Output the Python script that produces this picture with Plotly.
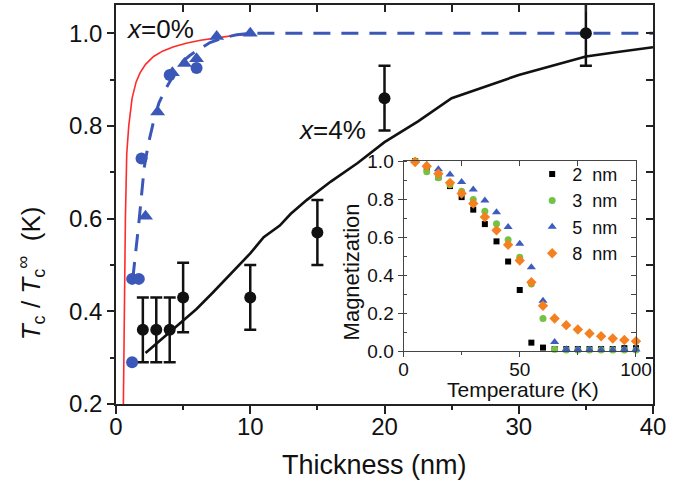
import plotly.graph_objects as go

FONT = "Liberation Sans, Arial, sans-serif"

# ---------------- main panel data ----------------
# x = 0% : measured points (blue)
x0_circ_thick = [1.2, 1.2, 1.7, 1.9, 4.0, 6.0]
x0_circ_tc = [0.29, 0.47, 0.47, 0.73, 0.91, 0.925]
x0_tri_thick = [2.2, 3.1, 4.2, 5.1, 6.0, 7.5, 10.0]
x0_tri_tc = [0.605, 0.83, 0.915, 0.935, 0.945, 0.993, 1.0]

# x = 0% : dashed guide curve (blue)
x0_dash_thick = [1.25, 1.5, 1.7, 1.9, 2.1, 2.4, 2.8, 3.2, 3.7, 4.2, 5.0, 5.5, 6.0, 7.0, 8.0, 9.0, 10.0, 40.0]
x0_dash_tc = [0.47, 0.53, 0.59, 0.65, 0.71, 0.76, 0.81, 0.85, 0.88, 0.905, 0.94, 0.952, 0.962, 0.98, 0.99, 0.997, 1.0, 1.0]

# red model curve
red_thick = [0.55, 0.6, 0.7, 0.8, 0.95, 1.2, 1.5, 1.8, 2.2, 2.8, 3.5, 4.3, 5.3, 6.3, 7.5, 8.7, 10.0]
red_tc = [0.2, 0.4, 0.6, 0.74, 0.8, 0.86, 0.895, 0.915, 0.933, 0.95, 0.962, 0.971, 0.979, 0.985, 0.99, 0.995, 0.998]

# x = 4% : measured points with error bars (black)
x4_thick = [2, 3, 4, 5, 10, 15, 20, 35]
x4_tc = [0.36, 0.36, 0.36, 0.43, 0.43, 0.57, 0.86, 1.0]
x4_err = [0.07, 0.07, 0.07, 0.075, 0.07, 0.07, 0.07, 0.07]

# x = 4% : model curve (black)
x4_fit_thick = [2.2, 3, 4, 5, 6, 7.2, 8.5, 10, 11, 12.2, 13, 14.2, 16, 18, 20, 22.5, 25, 27.5, 30, 32.5, 35, 37.5, 40]
x4_fit_tc = [0.31, 0.33, 0.355, 0.38, 0.405, 0.44, 0.48, 0.525, 0.56, 0.585, 0.61, 0.64, 0.68, 0.72, 0.765, 0.81, 0.86, 0.885, 0.91, 0.93, 0.95, 0.96, 0.97]

# ---------------- inset data ----------------
temperature = [5, 10, 15, 20, 25, 30, 35, 40, 45, 50, 55, 60, 65, 70, 75, 80, 85, 90, 95, 100]
mag_2nm = [1.0, 0.965, 0.915, 0.868, 0.81, 0.744, 0.668, 0.577, 0.471, 0.321, 0.044, 0.018, 0.01, 0.01, 0.01, 0.01, 0.01, 0.01, 0.015, 0.015]
mag_3nm = [1.0, 0.944, 0.912, 0.875, 0.841, 0.797, 0.735, 0.67, 0.586, 0.494, 0.353, 0.171, 0.009, 0.005, 0.005, 0.005, 0.005, 0.005, 0.005, 0.005]
mag_5nm = [1.0, 0.98, 0.956, 0.929, 0.89, 0.85, 0.792, 0.73, 0.653, 0.564, 0.441, 0.265, 0.048, 0.009, 0.008, 0.006, 0.005, 0.005, 0.008, 0.008]
mag_8nm = [0.995, 0.973, 0.933, 0.885, 0.829, 0.776, 0.705, 0.635, 0.559, 0.476, 0.362, 0.238, 0.171, 0.136, 0.113, 0.092, 0.078, 0.066, 0.058, 0.052]
legend_labels = ["2\u00a0\u00a0nm", "3\u00a0\u00a0nm", "5\u00a0\u00a0nm", "8\u00a0\u00a0nm"]

BLUE = "#3b58b8"
RED = "#ff2b2b"
INK = "#111111"

fig = go.Figure()

# main panel traces
fig.add_trace(go.Scatter(x=red_thick, y=red_tc, mode="lines",
                         line=dict(color=RED, width=1.6), showlegend=False, hoverinfo="skip"))
fig.add_trace(go.Scatter(x=x0_dash_thick, y=x0_dash_tc, mode="lines",
                         line=dict(color=BLUE, width=3, dash="17px,11px"), showlegend=False))
fig.add_trace(go.Scatter(x=x4_fit_thick, y=x4_fit_tc, mode="lines",
                         line=dict(color=INK, width=2.6), showlegend=False))
fig.add_trace(go.Scatter(x=x4_thick, y=x4_tc, mode="markers",
                         marker=dict(symbol="circle", size=12, color=INK),
                         error_y=dict(type="data", array=x4_err, color=INK, thickness=2.5, width=6),
                         showlegend=False, cliponaxis=False))
fig.add_trace(go.Scatter(x=x0_circ_thick, y=x0_circ_tc, mode="markers",
                         marker=dict(symbol="circle", size=12, color=BLUE),
                         showlegend=False, cliponaxis=False))
fig.add_trace(go.Scatter(x=x0_tri_thick, y=x0_tri_tc, mode="markers",
                         marker=dict(symbol="triangle-up", size=13, color=BLUE),
                         showlegend=False, cliponaxis=False))
# carrier for the mirrored (top/right) inward ticks of the main panel
fig.add_trace(go.Scatter(x=[None], y=[None], xaxis="x3", yaxis="y3",
                         showlegend=False, hoverinfo="skip"))

# inset traces
inset_series = [
    (mag_2nm, "square", 6, "#000000"),
    (mag_3nm, "circle", 7, "#72c344"),
    (mag_5nm, "triangle-up", 8, "#3d5cc0"),
    (mag_8nm, "diamond", 8, "#f5801f"),
]
for (vals, sym, sz, col), lab in zip(inset_series, legend_labels):
    fig.add_trace(go.Scatter(x=temperature, y=vals, mode="markers", name=lab,
                             marker=dict(symbol=sym, size=sz, color=col),
                             xaxis="x2", yaxis="y2", cliponaxis=False))
fig.add_trace(go.Scatter(x=[None], y=[None], xaxis="x4", yaxis="y4",
                         showlegend=False, hoverinfo="skip"))

tickfont_main = dict(family=FONT, size=24, color=INK)
tickfont_in = dict(family=FONT, size=19, color=INK)

INSET_X = [0.5354, 0.9683]
INSET_Y = [0.1328, 0.609]

fig.update_layout(
    width=685, height=489,
    margin=dict(l=116, r=32, t=5, b=85, autoexpand=False),
    paper_bgcolor="white", plot_bgcolor="white",
    font=dict(family=FONT, color=INK),
    xaxis=dict(range=[0, 40], dtick=10, tick0=0, showgrid=False, zeroline=False, automargin=False,
               showline=True, linecolor="#222", linewidth=1.5, mirror=True,
               ticks="outside", ticklen=8, tickwidth=1.5, tickcolor="#222", ticklabelstandoff=-8,
               minor=dict(dtick=5, tick0=0, ticks="outside", ticklen=4, tickwidth=1.5, tickcolor="#222"),
               tickfont=tickfont_main),
    yaxis=dict(range=[0.2, 1.061], dtick=0.2, tick0=0.2, tickformat=".1f",
               showgrid=False, zeroline=False, automargin=False,
               showline=True, linecolor="#222", linewidth=1.5, mirror=True,
               ticks="outside", ticklen=7, tickwidth=1.5, tickcolor="#222",
               minor=dict(dtick=0.1, tick0=0.2, ticks="outside", ticklen=4, tickwidth=1.5, tickcolor="#222"),
               tickfont=tickfont_main),
    xaxis3=dict(overlaying="x", side="top", anchor="y3", range=[0, 40], dtick=5, tick0=0,
                showgrid=False, zeroline=False, showline=False, showticklabels=False, automargin=False,
                ticks="inside", ticklen=7, tickwidth=1.5, tickcolor="#222"),
    yaxis3=dict(overlaying="y", side="right", anchor="x3", range=[0.2, 1.061], dtick=0.1, tick0=0.2,
                showgrid=False, zeroline=False, showline=False, showticklabels=False, automargin=False,
                ticks="inside", ticklen=7, tickwidth=1.5, tickcolor="#222"),
    xaxis2=dict(domain=INSET_X, anchor="y2", range=[0, 100], dtick=50, tick0=0, automargin=False,
                showgrid=False, zeroline=False, showline=True, linecolor="#444", linewidth=1,
                mirror=True, ticks="outside", ticklen=5, tickwidth=1, tickcolor="#444", ticklabelstandoff=-4,
                minor=dict(dtick=25, tick0=0, ticks="outside", ticklen=3, tickwidth=1, tickcolor="#444"),
                tickfont=tickfont_in),
    yaxis2=dict(domain=INSET_Y, anchor="x2", range=[0, 1.0], dtick=0.2, tick0=0, tickformat=".1f",
                showgrid=False, zeroline=False, showline=True, linecolor="#444", linewidth=1,
                mirror=True, ticks="outside", ticklen=5, tickwidth=1, tickcolor="#444", automargin=False,
                minor=dict(dtick=0.1, tick0=0, ticks="inside", ticklen=3, tickwidth=1, tickcolor="#444"),
                tickfont=tickfont_in),
    xaxis4=dict(overlaying="x2", side="top", anchor="y4", range=[0, 100], dtick=25, tick0=0,
                showgrid=False, zeroline=False, showline=False, showticklabels=False, automargin=False,
                ticks="inside", ticklen=5, tickwidth=1, tickcolor="#444"),
    yaxis4=dict(overlaying="y2", side="right", anchor="x4", range=[0, 1.0], dtick=0.1, tick0=0,
                showgrid=False, zeroline=False, showline=False, showticklabels=False, automargin=False,
                ticks="inside", ticklen=5, tickwidth=1, tickcolor="#444"),
    legend=dict(x=0.775, y=0.622, xanchor="left", yanchor="top",
                bgcolor="rgba(0,0,0,0)", borderwidth=0,
                font=dict(family=FONT, size=18, color=INK),
                itemsizing="trace", tracegroupgap=0),
    showlegend=True,
)

annotations = [
    dict(text="<i>x</i>=0%", x=0.6, y=1.009, xref="x", yref="y", xanchor="left", yanchor="middle",
         showarrow=False, font=dict(family=FONT, size=26, color=INK)),
    dict(text="<i>x</i>=4%", x=13.4, y=0.791, xref="x", yref="y", xanchor="left", yanchor="middle",
         showarrow=False, font=dict(family=FONT, size=26, color=INK)),
    dict(text="<i>T</i><sub>c</sub> / <i>T</i><sub>c</sub><sup>\u221e</sup>  (K)",
         x=-0.158, y=0.328, xref="paper", yref="paper", xanchor="center", yanchor="middle",
         textangle=-90, showarrow=False, font=dict(family=FONT, size=26, color=INK)),
    dict(text="Thickness (nm)", x=0.481, y=-0.153, xref="paper", yref="paper",
         xanchor="center", yanchor="middle", showarrow=False,
         font=dict(family=FONT, size=27, color=INK)),
    dict(text="Magnetization", x=0.439, y=0.3316, xref="paper", yref="paper",
         xanchor="center", yanchor="middle", textangle=-90, showarrow=False,
         font=dict(family=FONT, size=22, color=INK)),
    dict(text="Temperature (K)", x=0.7585, y=0.036, xref="paper", yref="paper",
         xanchor="center", yanchor="middle", showarrow=False,
         font=dict(family=FONT, size=21, color=INK)),
]
fig.update_layout(annotations=annotations)

fig.write_html("out.html", config={"displayModeBar": False},
               post_script="document.body.style.margin='0px';")
